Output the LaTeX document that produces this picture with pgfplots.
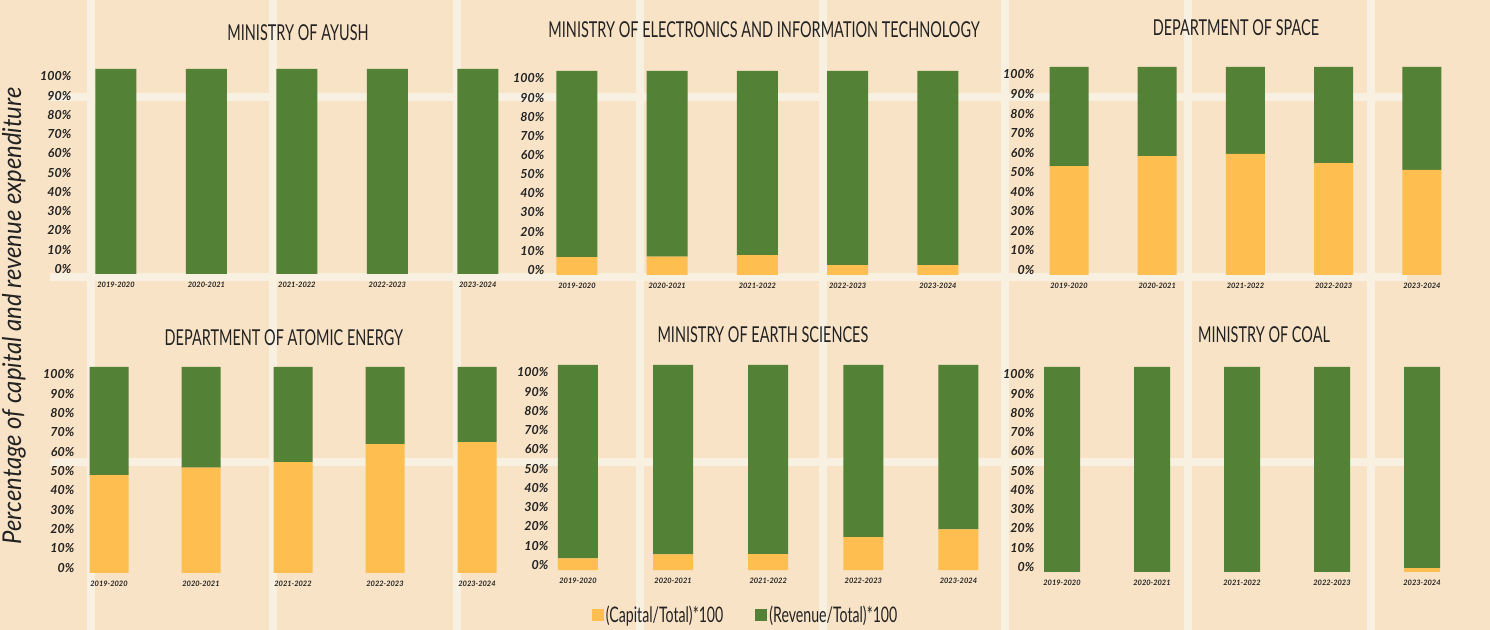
\documentclass[border=0pt]{standalone}
\usepackage{pgfplots}
\pgfplotsset{compat=1.18}
\usepackage{pgfplotstable}
\usepackage{fontspec}
\setmainfont{Lato}
\newfontfamily\hand[FakeStretch=0.66]{Lato}
\newfontfamily\ylab[FakeStretch=0.92]{Lato}

\definecolor{bg}{HTML}{F8E3C6}
\definecolor{gridc}{HTML}{F8F1E1}
\definecolor{capc}{HTML}{FFBF50}
\definecolor{revc}{HTML}{538135}
\definecolor{txt}{HTML}{222222}

% capital and revenue share of total expenditure, in percent
\pgfplotstableread{
x cap rev
0 0    100
1 0    100
2 0    100
3 0    100
4 0    100
}\tabAyush
\pgfplotstableread{
x cap rev
0 8.8  91.2
1 9.0  91.0
2 9.7  90.3
3 4.8  95.2
4 4.8  95.2
}\tabMeity
\pgfplotstableread{
x cap rev
0 52.4 47.6
1 57.2 42.8
2 58.2 41.8
3 53.8 46.2
4 50.5 49.5
}\tabSpace
\pgfplotstableread{
x cap rev
0 47.5 52.5
1 51.1 48.9
2 53.8 46.2
3 62.6 37.4
4 63.5 36.5
}\tabAtomic
\pgfplotstableread{
x cap rev
0 5.7  94.3
1 7.6  92.4
2 7.8  92.2
3 16.0 84.0
4 19.8 80.2
}\tabEarth
\pgfplotstableread{
x cap rev
0 0    100
1 0    100
2 0    100
3 0    100
4 1.8  98.2
}\tabCoal

\pgfplotsset{panel/.style={
  ybar stacked, scale only axis, anchor=south west,
  ymin=0, ymax=100, xmax=4.5,
  xtick={0,...,4},
  xticklabels={2019-2020,2020-2021,2021-2022,2022-2023,2023-2024},
  ytick={2.5,11.9,21.3,30.7,40.1,49.5,58.8,68.2,77.6,87.0,96.4},
  yticklabels={0\%,10\%,20\%,30\%,40\%,50\%,60\%,70\%,80\%,90\%,100\%},
  axis line style={draw=none}, major tick length=0,
  axis background/.style={fill=none},
  xticklabel style={font=\fontsize{7.5}{8}\selectfont\bfseries\itshape, text=txt, yshift=-5bp},
  yticklabel style={font=\fontsize{12.5}{13}\selectfont\bfseries\itshape, text=txt, inner sep=1.5bp},
  title style={font=\hand\fontsize{22}{24}\selectfont, text=txt, anchor=center},
  clip=false,
}}

\begin{document}
\begin{tikzpicture}
\useasboundingbox (0,0) rectangle (1490bp,630bp);
\fill[bg] (0,0) rectangle (1490bp,630bp);
\foreach \gx in {91,273,457,640,823,1005,1188,1371}
  \draw[gridc, line width=8bp] (\gx bp,0) -- (\gx bp,630bp);
\foreach \gy in {533,353,168}
  \draw[gridc, line width=8bp] (50bp,\gy bp) -- (1407bp,\gy bp);

% top row
\begin{axis}[panel, at={(73bp,356bp)}, width=450bp, height=205bp,
  xmin=-0.475, bar width=41bp,
  title={MINISTRY OF AYUSH}, title style={at={(0.5,1)}, yshift=30bp}]
\addplot[fill=capc, draw=none] table[x=x, y=cap] {\tabAyush};
\addplot[fill=revc, draw=none] table[x=x, y=rev] {\tabAyush};
\end{axis}

\begin{axis}[panel, at={(546bp,355bp)}, width=437bp, height=204bp,
  xmin=-0.343, bar width=41bp,
  title={MINISTRY OF ELECTRONICS AND INFORMATION TECHNOLOGY},
  title style={at={(0.499,1)}, yshift=35bp}]
\addplot[fill=capc, draw=none] table[x=x, y=cap] {\tabMeity};
\addplot[fill=revc, draw=none] table[x=x, y=rev] {\tabMeity};
\end{axis}

\begin{axis}[panel, at={(1036bp,355bp)}, width=430bp, height=208bp,
  xmin=-0.374, bar width=39bp,
  title={DEPARTMENT OF SPACE}, title style={at={(0.465,1)}, yshift=33bp}]
\addplot[fill=capc, draw=none] table[x=x, y=cap] {\tabSpace};
\addplot[fill=revc, draw=none] table[x=x, y=rev] {\tabSpace};
\end{axis}

% bottom row
\begin{axis}[panel, at={(76bp,57bp)}, width=447bp, height=206bp,
  xmin=-0.359, bar width=39bp,
  title={DEPARTMENT OF ATOMIC ENERGY}, title style={at={(0.465,1)}, yshift=23bp}]
\addplot[fill=capc, draw=none] table[x=x, y=cap] {\tabAtomic};
\addplot[fill=revc, draw=none] table[x=x, y=rev] {\tabAtomic};
\end{axis}

\begin{axis}[panel, at={(550bp,60bp)}, width=456bp, height=205bp,
  xmin=-0.294, bar width=40bp,
  title={MINISTRY OF EARTH SCIENCES}, title style={at={(0.467,1)}, yshift=24bp},
  legend style={at={(0.429,-0.22)}, anchor=center, legend columns=2,
    draw=none, fill=none, text=txt, font=\hand\fontsize{21.5}{23}\selectfont,
    /tikz/every even column/.append style={column sep=30bp}},
  legend image code/.code={\fill[#1] (-4bp,-6bp) rectangle (8bp,6bp);}]
\addplot[fill=capc, draw=none] table[x=x, y=cap] {\tabEarth};
\addplot[fill=revc, draw=none] table[x=x, y=rev] {\tabEarth};
\legend{(Capital/Total)*100, (Revenue/Total)*100}
\end{axis}

\begin{axis}[panel, at={(1036bp,58bp)}, width=431bp, height=205bp,
  xmin=-0.289, bar width=36bp,
  title={MINISTRY OF COAL}, title style={at={(0.529,1)}, yshift=26bp}]
\addplot[fill=capc, draw=none] table[x=x, y=cap] {\tabCoal};
\addplot[fill=revc, draw=none] table[x=x, y=rev] {\tabCoal};
\end{axis}

\node[rotate=90, text=txt, font=\ylab\fontsize{26}{28}\selectfont\itshape]
  at (14bp,314bp) {Percentage of capital and revenue expenditure};
\end{tikzpicture}
\end{document}
